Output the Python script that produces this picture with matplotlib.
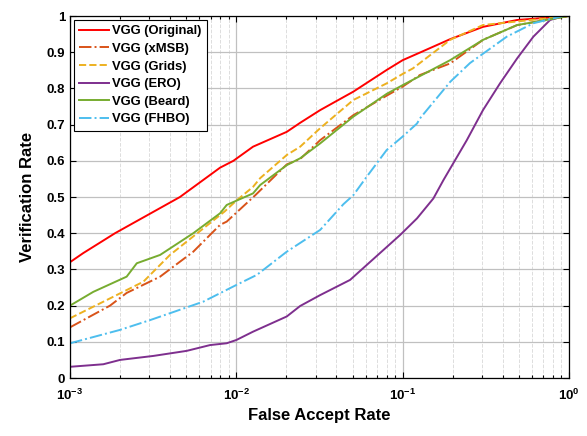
import numpy as np
import matplotlib
matplotlib.use("Agg")
import matplotlib.pyplot as plt
from matplotlib.ticker import LogLocator, MultipleLocator, NullFormatter, FuncFormatter

plt.rcParams.update({
    "font.family": ["Liberation Sans", "DejaVu Sans"],
    "font.weight": "bold",
    "axes.labelweight": "bold",
    "mathtext.default": "bf",
})

# (false accept rate, verification rate)
far_original = [1e-3, 1.2e-3, 1.865e-3, 4.58e-3, 7.98e-3, 9.6e-3, 1.26e-2, 2.01e-2, 2.42e-2,
                3.19e-2, 5.05e-2, 8.02e-2, 0.1, 0.127, 0.193, 0.304, 0.488, 1.0]
vr_original = [0.32, 0.345, 0.40, 0.50, 0.581, 0.60, 0.639, 0.68, 0.705,
               0.74, 0.791, 0.851, 0.878, 0.899, 0.936, 0.970, 0.989, 1.0]

far_xmsb = [1e-3, 1.74e-3, 2.19e-3, 3.48e-3, 5.51e-3, 7.98e-3, 8.75e-3, 1.3e-2, 2.01e-2, 2.42e-2,
            3.19e-2, 5.05e-2, 8.02e-2, 0.1, 0.127, 0.193, 0.304, 0.488, 1.0]
vr_xmsb = [0.14, 0.20, 0.235, 0.28, 0.349, 0.423, 0.432, 0.505, 0.59, 0.605,
           0.657, 0.726, 0.78, 0.805, 0.837, 0.869, 0.934, 0.975, 1.0]

far_grids = [1e-3, 1.74e-3, 2.76e-3, 3.99e-3, 6.95e-3, 8.5e-3, 1.0e-2, 1.26e-2, 1.39e-2, 2.01e-2,
             2.42e-2, 3.19e-2, 5.05e-2, 8.02e-2, 0.1, 0.115, 0.193, 0.304, 1.0]
vr_grids = [0.165, 0.22, 0.266, 0.34, 0.428, 0.46, 0.49, 0.528, 0.552, 0.616,
            0.639, 0.69, 0.768, 0.814, 0.84, 0.855, 0.934, 0.975, 1.0]

far_ero = [1e-3, 1.585e-3, 2e-3, 3.17e-3, 5.03e-3, 6.95e-3, 8.75e-3, 1e-2, 1.26e-2, 2.01e-2,
           2.42e-2, 3.19e-2, 4.83e-2, 9.65e-2, 0.122, 0.153, 0.176, 0.243, 0.304, 0.385,
           0.488, 0.611, 0.770, 0.922, 1.0]
vr_ero = [0.031, 0.038, 0.05, 0.061, 0.075, 0.091, 0.096, 0.105, 0.128, 0.17,
          0.199, 0.229, 0.271, 0.395, 0.441, 0.496, 0.547, 0.657, 0.74, 0.814,
          0.883, 0.943, 0.989, 1.0, 1.0]

far_beard = [1e-3, 1.38e-3, 2.19e-3, 2.52e-3, 3.48e-3, 5.51e-3, 7.98e-3, 8.75e-3, 1.26e-2, 1.39e-2,
             2.01e-2, 2.42e-2, 3.19e-2, 5.05e-2, 8.02e-2, 0.1, 0.193, 0.304, 0.488, 1.0]
vr_beard = [0.20, 0.238, 0.28, 0.317, 0.34, 0.40, 0.455, 0.478, 0.51, 0.533,
            0.588, 0.607, 0.648, 0.722, 0.785, 0.809, 0.878, 0.934, 0.975, 1.0]

far_fhbo = [1e-3, 2e-3, 3.03e-3, 3.99e-3, 6.33e-3, 1.0e-2, 1.33e-2, 2.01e-2, 3.19e-2, 4.4e-2,
            5.05e-2, 6.08e-2, 8.02e-2, 0.1, 0.122, 0.127, 0.193, 0.254, 0.423, 0.611, 0.922, 1.0]
vr_fhbo = [0.096, 0.133, 0.16, 0.179, 0.211, 0.257, 0.285, 0.349, 0.409, 0.48,
           0.505, 0.556, 0.63, 0.667, 0.703, 0.717, 0.818, 0.87, 0.943, 0.98, 1.0, 1.0]

series = [
    ("VGG (Original)", far_original, vr_original, "#FF0000", "-"),
    ("VGG (xMSB)", far_xmsb, vr_xmsb, "#D95319", "-."),
    ("VGG (Grids)", far_grids, vr_grids, "#EDB120", "--"),
    ("VGG (ERO)", far_ero, vr_ero, "#7E2F8E", "-"),
    ("VGG (Beard)", far_beard, vr_beard, "#77AC30", "-"),
    ("VGG (FHBO)", far_fhbo, vr_fhbo, "#4DBEEE", "-."),
]

fig = plt.figure(figsize=(5.87, 4.36), dpi=100)
ax = fig.add_axes([0.1193, 0.133, 0.85, 0.8303])

for label, x, y, color, ls in series:
    ax.plot(x, y, color=color, linestyle=ls, linewidth=1.4, label=label)

ax.set_xscale("log")
ax.set_xlim(1e-3, 1)
ax.set_ylim(0, 1)
ax.yaxis.set_major_locator(MultipleLocator(0.1))
ax.yaxis.set_major_formatter(FuncFormatter(lambda v, p: f"{v:g}"))
ax.xaxis.set_major_locator(LogLocator(base=10, numticks=10))
ax.xaxis.set_minor_locator(LogLocator(base=10, subs=np.arange(2, 10), numticks=10))
ax.xaxis.set_minor_formatter(NullFormatter())

ax.grid(True, which="major", color="#c0c0c0", linewidth=0.9, linestyle="-")
ax.grid(True, which="minor", axis="x", color="#dddddd", linewidth=0.7, linestyle="--")
ax.set_axisbelow(True)

ax.tick_params(which="both", direction="in", top=True, right=True, labelsize=9.5, width=0.8)
ax.tick_params(which="major", length=4)
ax.tick_params(which="minor", length=2.5)
ax.tick_params(axis="x", pad=7)
for s in ax.spines.values():
    s.set_linewidth(0.9)

ax.set_xlabel("False Accept Rate", fontsize=12, labelpad=4)
ax.set_ylabel("Verification Rate", fontsize=12, labelpad=8)

leg = ax.legend(loc="upper left", fontsize=9.4, frameon=True, fancybox=False,
                edgecolor="black", framealpha=1, borderpad=0.4, labelspacing=0.42,
                handlelength=2.3, handletextpad=0.25, borderaxespad=0.3)
leg.get_frame().set_linewidth(0.8)

fig.savefig("out.png", dpi=100)
